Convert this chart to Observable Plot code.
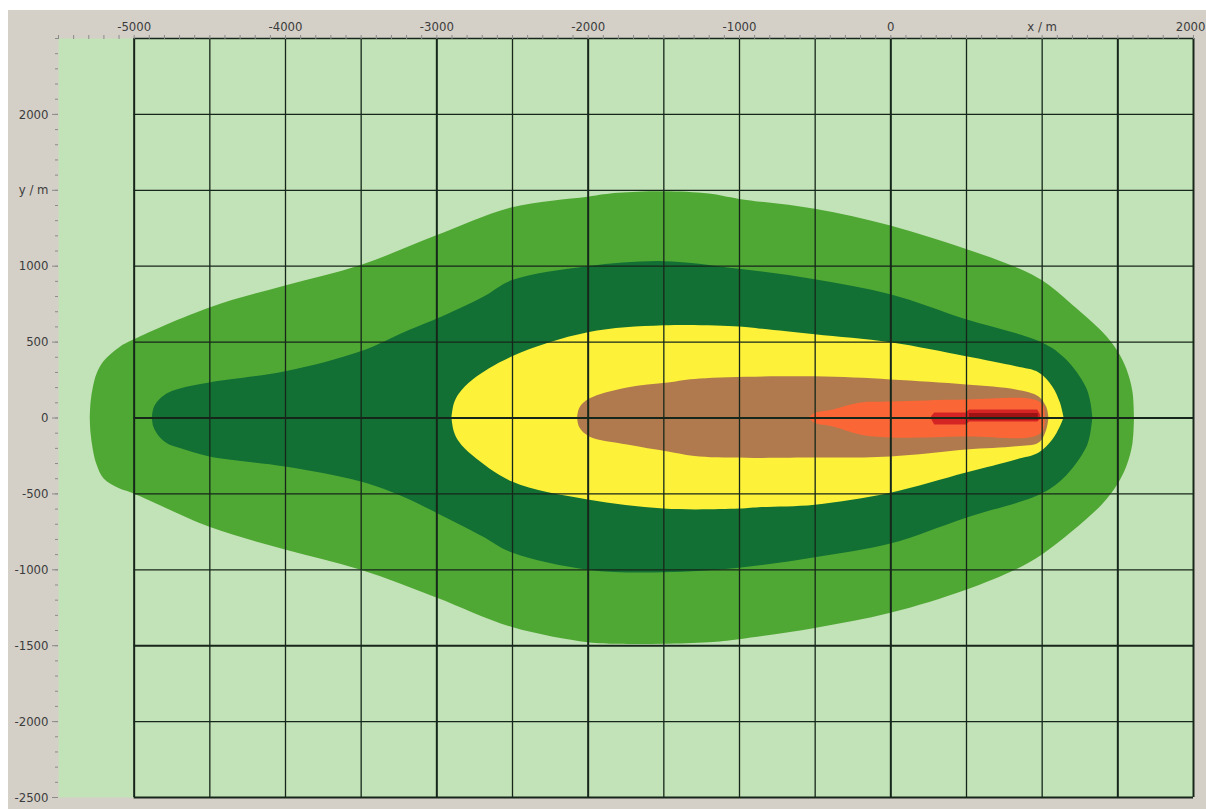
<!DOCTYPE html>
<html>
<head>
<meta charset="utf-8">
<script src="https://cdn.jsdelivr.net/npm/d3@7"></script>
<script src="https://cdn.jsdelivr.net/npm/@observablehq/plot@0.6"></script>
<style>
  html, body { margin: 0; padding: 0; background: #ffffff; }
  #chart { padding: 10px 0 0 8px; width: 1198px; height: 799px; }
  #chart svg { display: block; }
</style>
</head>
<body>
<div id="chart"></div>
<script>
// ---- Axis ticks and labels ----
const xTickValues = [-5000, -4000, -3000, -2000, -1000, 0, 1000];
const xTickLabels = ["-5000", "-4000", "-3000", "-2000", "-1000", "0", "x / m"];
const xEdgeTick = [2000];
const xEdgeLabel = ["2000"];
const yTickValues = [2000, 1500, 1000, 500, 0, -500, -1000, -1500, -2000, -2500];
const yTickLabels = ["2000", "y / m", "1000", "500", "0", "-500", "-1000", "-1500", "-2000", "-2500"];

// ---- Grid lines ----
const xGrid = [-5000, -4500, -4000, -3500, -3000, -2500, -2000, -1500, -1000, -500, 0, 500, 1000, 1500, 2000];
const yGrid = [-2500, -2000, -1500, -1000, -500, 0, 500, 1000, 1500, 2000, 2500];
const xGridThick = [-5000, -3000, -2000, 0, 1500, 2000];
const yGridThick = [-2500, -1500, 0];

// ---- Contour levels (outer to inner): x, upper edge, lower edge in metres ----
const level1X   = [-5290, -5285, -5270, -5245, -5200, -5100, -5000, -4500, -4000, -3500, -3000, -2500, -2000, -1800, -1500, -1200, -1000, -500, 0, 500, 830, 1000, 1200, 1400, 1500, 1560, 1600, 1610];
const level1Top = [0, 100, 200, 290, 370, 460, 515, 725, 870, 1005, 1200, 1385, 1455, 1480, 1490, 1475, 1440, 1375, 1265, 1110, 990, 905, 745, 565, 440, 320, 170, 0];
const level1Bot = [0, -100, -210, -310, -400, -465, -500, -720, -870, -1003, -1185, -1380, -1480, -1490, -1490, -1480, -1460, -1386, -1287, -1135, -1000, -904, -750, -570, -440, -320, -170, 0];

const level2X   = [-4880, -4870, -4840, -4780, -4700, -4500, -4000, -3500, -3200, -3000, -2700, -2500, -2000, -1500, -1000, -500, 0, 500, 1000, 1160, 1290, 1320, 1335];
const level2Top = [0, 60, 110, 160, 190, 231, 304, 436, 568, 650, 790, 905, 997, 1030, 980, 911, 812, 647, 495, 383, 205, 110, 0];
const level2Bot = [0, -60, -115, -170, -200, -257, -323, -422, -530, -627, -780, -890, -1003, -1020, -990, -920, -830, -660, -500, -383, -205, -110, 0];

const level3X   = [-2900, -2885, -2850, -2760, -2500, -2000, -1500, -1000, -850, -500, 0, 500, 830, 980, 1070, 1120, 1145];
const level3Top = [0, 90, 160, 251, 403, 561, 607, 600, 585, 548, 495, 403, 337, 297, 205, 100, 0];
const level3Bot = [0, -90, -160, -251, -422, -541, -600, -600, -590, -574, -495, -363, -277, -231, -145, -60, 0];

const level4X   = [-2070, -2055, -1990, -1740, -1470, -1260, -500, 0, 500, 830, 980, 1030, 1045];
const level4Top = [0, 65, 125, 198, 231, 257, 271, 251, 218, 185, 139, 70, 0];
const level4Bot = [0, -65, -125, -178, -224, -257, -264, -257, -211, -190, -165, -80, 0];

const level5X   = [-540, -500, -380, -200, 0, 500, 950, 1010, 1020];
const level5Top = [0, 30, 53, 99, 106, 119, 119, 80, 0];
const level5Bot = [0, -35, -59, -112, -132, -125, -125, -80, 0];

const level6X   = [270, 290, 500, 520, 970, 990];
const level6Top = [10, 33, 33, 53, 53, 20];
const level6Bot = [-10, -46, -46, -26, -26, -10];

const level7X   = [520, 975];
const level7Top = [30, 30];
const level7Bot = [-15, -15];

const levelColors = ["#50a834", "#127034", "#fdf13a", "#b07a4e", "#fb6636", "#d42424", "#9e1214"];
const levelCurves = ["catmull-rom", "catmull-rom", "catmull-rom", "catmull-rom", "catmull-rom", "linear", "linear"];
const backgroundColor = "#c2e2b7";

const levels = [
  [level1X, level1Top, level1Bot],
  [level2X, level2Top, level2Bot],
  [level3X, level3Top, level3Bot],
  [level4X, level4Top, level4Bot],
  [level5X, level5Top, level5Bot],
  [level6X, level6Top, level6Bot],
  [level7X, level7Top, level7Bot]
];

const areaMarks = levels.map(([xs, tops, bots], i) =>
  Plot.areaY(xs.map((x, j) => ({x, top: tops[j], bot: bots[j]})), {
    x: "x", y1: "bot", y2: "top", fill: levelColors[i], curve: levelCurves[i]
  })
);

const minorX = d3.range(-5500, 2001, 100);
const minorY = d3.range(-2500, 2501, 100);
const gridColor = "#16261a";

const chart = Plot.plot({
  width: 1198,
  height: 799,
  marginTop: 28,
  marginLeft: 50,
  marginRight: 13,
  marginBottom: 12,
  x: {domain: [-5500, 2000], label: null},
  y: {domain: [-2500, 2500], label: null},
  style: {
    background: "#d4d0c8",
    fontFamily: "'Liberation Sans Narrow', 'DejaVu Sans Condensed', sans-serif",
    fontSize: "13px",
    color: "#3c3c3c"
  },
  marks: [
    Plot.frame({fill: backgroundColor, stroke: null}),
    ...areaMarks,
    Plot.ruleX(xGrid.filter(d => !xGridThick.includes(d)), {stroke: gridColor, strokeWidth: 1.3}),
    Plot.ruleX(xGridThick, {stroke: gridColor, strokeWidth: 2}),
    Plot.ruleY(yGrid.filter(d => !yGridThick.includes(d)), {x1: -5000, x2: 2000, stroke: gridColor, strokeWidth: 1.3}),
    Plot.ruleY(yGridThick, {x1: -5000, x2: 2000, stroke: gridColor, strokeWidth: 2}),
    Plot.axisX({anchor: "top", ticks: minorX, tickSize: 4, tickFormat: () => "", stroke: "#8a8a8a"}),
    Plot.axisX({anchor: "top", ticks: xTickValues, tickSize: 0, tickPadding: 8,
      tickFormat: d => xTickLabels[xTickValues.indexOf(d)]}),
    Plot.axisX({anchor: "top", ticks: xEdgeTick, tickSize: 0, tickPadding: 8, textAnchor: "end", dx: 12,
      tickFormat: d => xEdgeLabel[xEdgeTick.indexOf(d)]}),
    Plot.axisY({anchor: "left", ticks: minorY, tickSize: 3, tickFormat: () => "", stroke: "#8a8a8a"}),
    Plot.axisY({anchor: "left", ticks: yTickValues, tickSize: 6, tickPadding: 4, stroke: "#8a8a8a",
      tickFormat: d => yTickLabels[yTickValues.indexOf(d)]})
  ]
});

document.getElementById("chart").appendChild(chart);
</script>
</body>
</html>
